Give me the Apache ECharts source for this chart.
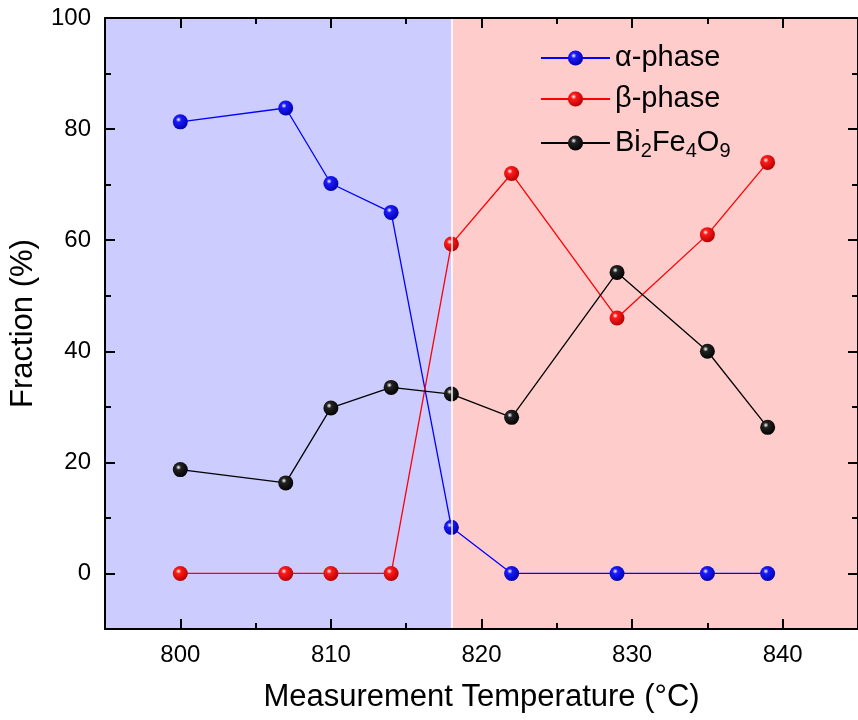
<!DOCTYPE html>
<html>
<head>
<meta charset="utf-8">
<script src="https://cdn.jsdelivr.net/npm/echarts@6/dist/echarts.min.js"></script>
<style>html,body{margin:0;padding:0;background:#fff}#c{width:858px;height:720px}</style>
</head>
<body>
<div id="c"></div>
<script>
var temperatures = [800, 807, 810, 814, 818, 822, 829, 835, 839];
var alphaPhase = [81.3, 83.8, 70.2, 65.0, 8.3, 0, 0, 0, 0];
var betaPhase = [0, 0, 0, 0, 59.3, 72.0, 46.0, 61.0, 74.0];
var bi2fe4o9 = [18.7, 16.3, 29.8, 33.5, 32.3, 28.1, 54.2, 40.0, 26.3];
var xMajorTicks = [800, 810, 820, 830, 840];
var xMinorTicks = [805, 815, 825, 835];
var yMajorTicks = [0, 20, 40, 60, 80, 100];
var yMinorTicks = [-10, 10, 30, 50, 70, 90];
var regionBoundary = 818;

var FONT = 'Arial, "Liberation Sans", sans-serif';
function pairs(vals) { return temperatures.map(function (t, i) { return [t, vals[i]]; }); }
function ball(c, dark) {
  return { type: 'radial', x: 0.38, y: 0.35, r: 0.7,
    colorStops: [{ offset: 0, color: '#ffffff' }, { offset: 0.25, color: c }, { offset: 1, color: dark }] };
}
function mkX(pos, vals, len, showLabel, showLine) {
  return { type: 'value', min: 795, max: 845, position: pos, z: 10,
    axisLine: { show: showLine, onZero: false, lineStyle: { color: '#000', width: 2 } },
    axisTick: { show: true, inside: true, length: len, customValues: vals, lineStyle: { color: '#000', width: 2 } },
    axisLabel: { show: showLabel, customValues: vals, fontSize: 24, fontFamily: FONT, color: '#000', margin: 14 },
    splitLine: { show: false } };
}
function mkY(pos, vals, len, showLabel, showLine) {
  return { type: 'value', min: -10, max: 100, position: pos, z: 10,
    axisLine: { show: showLine, onZero: false, lineStyle: { color: '#000', width: 2 } },
    axisTick: { show: true, inside: true, length: len, customValues: vals, lineStyle: { color: '#000', width: 2 } },
    axisLabel: { show: showLabel, customValues: vals, fontSize: 24, fontFamily: FONT, color: '#000', margin: 14 },
    splitLine: { show: false } };
}
var x0 = mkX('bottom', xMajorTicks, 10, true, true);
x0.name = 'Measurement Temperature (°C)';
x0.nameLocation = 'middle'; x0.nameGap = 53;
x0.nameTextStyle = { fontSize: 31, fontFamily: FONT, color: '#000' };
var y0 = mkY('left', yMajorTicks, 10, true, true);
y0.name = 'Fraction (%)';
y0.nameLocation = 'middle'; y0.nameGap = 66;
y0.nameTextStyle = { fontSize: 31, fontFamily: FONT, color: '#000' };

var chart = echarts.init(document.getElementById('c'), null, { renderer: 'canvas' });
chart.setOption({
  animation: false,
  backgroundColor: '#fff',
  grid: { left: 104, top: 18, width: 757, height: 611, containLabel: false },
  xAxis: [x0, mkX('bottom', xMinorTicks, 6, false, false), mkX('top', xMajorTicks, 10, false, true), mkX('top', xMinorTicks, 6, false, false)],
  yAxis: [y0, mkY('left', yMinorTicks, 6, false, false), mkY('right', yMajorTicks, 10, false, true), mkY('right', yMinorTicks, 6, false, false)],
  legend: {
    orient: 'vertical', left: 540, top: 43, itemGap: 12, padding: 0,
    itemWidth: 69, itemHeight: 19,
    data: ['α-phase', 'β-phase', 'Bi2Fe4O9'],
    formatter: function (name) {
      if (name === 'Bi2Fe4O9') return '{n|Bi}{s|2}{n|Fe}{s|4}{n|O}{s|9}';
      return '{n|' + name + '}';
    },
    textStyle: {
      fontFamily: FONT, color: '#000',
      rich: {
        n: { fontSize: 29, fontFamily: FONT, color: '#000', lineHeight: 30, verticalAlign: 'top' },
        s: { fontSize: 20, fontFamily: FONT, color: '#000', lineHeight: 19, padding: [16, 0, 0, 0] }
      }
    }
  },
  series: [
    { type: 'line', name: '_bg', data: [], silent: true, z: 0,
      markArea: { silent: true, data: [
        [{ xAxis: 795, itemStyle: { color: '#ccccff' } }, { xAxis: regionBoundary }],
        [{ xAxis: regionBoundary, itemStyle: { color: '#ffcccc' } }, { xAxis: 845 }]
      ] },
      markLine: { silent: true, symbol: 'none', label: { show: false },
        lineStyle: { color: '#ffffff', width: 1.5, type: 'solid' },
        data: [{ xAxis: regionBoundary }] } },
    { type: 'line', name: 'α-phase', data: pairs(alphaPhase), symbol: 'circle', symbolSize: 15,
      lineStyle: { color: '#0000ff', width: 1.3 }, itemStyle: { color: ball('#1a1aff', '#0000a8') }, z: 3 },
    { type: 'line', name: 'β-phase', data: pairs(betaPhase), symbol: 'circle', symbolSize: 15,
      lineStyle: { color: '#ff0000', width: 1.3 }, itemStyle: { color: ball('#ff1a1a', '#b00000') }, z: 3 },
    { type: 'line', name: 'Bi2Fe4O9', data: pairs(bi2fe4o9), symbol: 'circle', symbolSize: 15,
      lineStyle: { color: '#000000', width: 1.3 }, itemStyle: { color: ball('#222222', '#000000') }, z: 4 }
  ]
});
</script>
</body>
</html>
